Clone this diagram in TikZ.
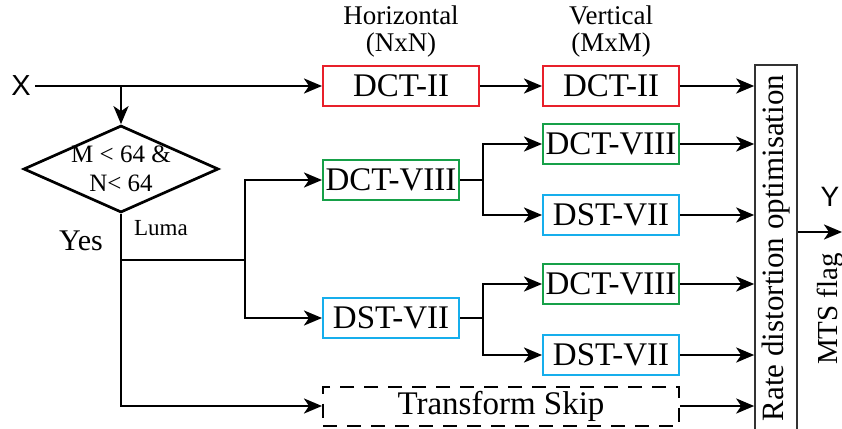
\documentclass[tikz,border=0pt]{standalone}
\usepackage{fontspec}
\setmainfont{Liberation Serif}
\newfontfamily\sansfont{Liberation Sans}
\usepackage{tikz}
\usetikzlibrary{arrows.meta,shapes.geometric}
\definecolor{dctred}{RGB}{232,32,42}
\definecolor{dctgreen}{RGB}{22,160,72}
\definecolor{dstblue}{RGB}{22,174,236}

\begin{document}
\begin{tikzpicture}[x=1pt,y=-1pt,line width=2.7pt,
  >={Stealth[length=18pt,width=15pt,inset=5pt]},
  box/.style={draw,line width=2pt,minimum width=136pt,minimum height=40pt,inner sep=0pt,font=\fontsize{33}{36}\selectfont},
  head/.style={align=center,font=\fontsize{27}{27}\selectfont},
  small/.style={align=center,font=\fontsize{25}{29}\selectfont}]
\useasboundingbox (0,0) rectangle (842,428);

% input and condition
\node[font=\sansfont\fontsize{29}{30}\selectfont] (x) at (21,86) {X};
\node[draw,diamond,line width=2.7pt,minimum width=195pt,minimum height=87pt,inner sep=0pt] (cond) at (121,169) {};
\node[small] at (cond) {M < 64 \&\\N< 64};
\node[font=\fontsize{30}{30}\selectfont] (yes) at (81,241) {Yes};
\node[font=\fontsize{23}{24}\selectfont] (luma) at (161,228) {Luma};

% first stage
\node[box,draw=dctred,minimum width=156pt] (h1) at (401,86) {DCT-II};
\node[box,draw=dctgreen] (h2) at (391,180) {DCT-VIII};
\node[box,draw=dstblue] (h3) at (391,318) {DST-VII};
\node[box,dashed,dash pattern=on 14pt off 10pt,minimum width=356pt,minimum height=39pt] (skip) at (501,406) {Transform Skip};

% second stage
\node[box,draw=dctred] (v1) at (611,86) {DCT-II};
\node[box,draw=dctgreen] (v2) at (611,144) {DCT-VIII};
\node[box,draw=dstblue] (v3) at (611,215) {DST-VII};
\node[box,draw=dctgreen] (v4) at (611,284) {DCT-VIII};
\node[box,draw=dstblue] (v5) at (611,355) {DST-VII};

\node[head] (hor) at (401,32) {Horizontal\\(NxN)};
\node[head] (ver) at (611,32) {Vertical\\(MxM)};

% rate distortion box
\node[draw,line width=1.6pt,draw=black!80,minimum width=42pt,minimum height=366pt,inner sep=0pt] (rdo) at (776,248) {};
\node[rotate=90,font=\fontsize{31}{32}\selectfont] at (rdo) {Rate distortion optimisation};
\node[font=\sansfont\fontsize{28}{30}\selectfont] (y) at (830,197) {Y};
\node[rotate=90,font=\fontsize{29}{30}\selectfont] (flag) at (830,309) {MTS flag};

% connectors
\coordinate (fork) at (245,260);
\coordinate (f2) at (483,180);
\coordinate (f3) at (483,318);
\coordinate (out) at (842,232);

\draw[->] (x.east) -- (h1.west);
\draw[->] (cond.north |- x) -- (cond.north);
\draw[->] (cond.south) |- (skip.west);
\draw (cond.south |- fork) -- (fork);
\draw[->] (fork) |- (h2.west);
\draw[->] (fork) |- (h3.west);
\draw[->] (h1.east) -- (v1.west);
\draw (h2.east) -- (f2);
\draw[->] (f2) |- (v2.west);
\draw[->] (f2) |- (v3.west);
\draw (h3.east) -- (f3);
\draw[->] (f3) |- (v4.west);
\draw[->] (f3) |- (v5.west);
\foreach \n in {v1,v2,v3,v4,v5,skip}
  \draw[->] (\n.east) -- (\n.east -| rdo.west);
\draw[->] (rdo.east |- out) -- (out);
\end{tikzpicture}
\end{document}
